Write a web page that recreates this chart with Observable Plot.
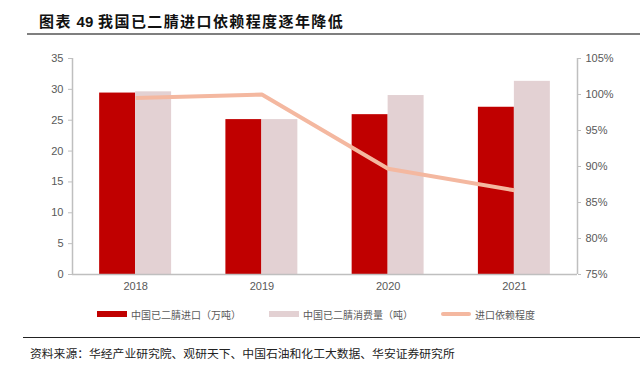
<!DOCTYPE html>
<html><head><meta charset="utf-8">
<script src="https://cdn.jsdelivr.net/npm/d3@7"></script>
<script src="https://cdn.jsdelivr.net/npm/@observablehq/plot@0.6"></script>
<style>
html,body{margin:0;padding:0;}
body{width:640px;height:376px;position:relative;background:#fff;overflow:hidden;font-family:"Liberation Sans",Arial,sans-serif;}
#title{position:absolute;left:39px;top:11px;font-family:"Noto Sans CJK SC";font-weight:bold;font-size:15px;line-height:20px;letter-spacing:1.4px;color:#111;white-space:nowrap;}
#title .num{font-family:"Liberation Sans",Arial,sans-serif;font-weight:bold;letter-spacing:0;}
#titleRule{position:absolute;left:27px;right:0;top:33px;height:2px;background:#7f7f7f;}
#chart{position:absolute;left:0;top:40px;}
.leg{position:absolute;top:306px;height:16px;display:flex;align-items:center;font-family:"Noto Sans CJK SC";font-size:10px;color:#595959;white-space:nowrap;}
.sw{display:inline-block;width:30px;margin-right:4px;}
#srcRule{position:absolute;left:23px;right:0;top:337px;height:1px;background:#222;}
#src{position:absolute;left:30px;top:344px;font-family:"Noto Sans CJK SC";font-size:11.8px;line-height:18px;color:#222;white-space:nowrap;}
</style>
</head>
<body>
<div id="title">图表 <span class="num">49</span> 我国已二腈进口依赖程度逐年降低</div>
<div id="titleRule"></div>
<div id="chart"></div>
<div id="legend"></div>
<div id="srcRule"></div>
<div id="src">资料来源：华经产业研究院、观研天下、中国石油和化工大数据、华安证券研究所</div>
<script>
const years = [2018, 2019, 2020, 2021];
const imports = [29.4, 25.1, 25.9, 27.1];       // 中国已二腈进口（万吨）
const consumption = [29.6, 25.1, 29.0, 31.3];   // 中国已二腈消费量（吨）
const dependence = [99.5, 100.0, 89.7, 86.7];   // 进口依赖程度 (%)
const leftTicks = [0, 5, 10, 15, 20, 25, 30, 35];
const rightTicks = [75, 80, 85, 90, 95, 100, 105];
const seriesNames = ["中国已二腈进口（万吨）", "中国已二腈消费量（吨）", "进口依赖程度"];
const colors = ["#c00000", "#e3d1d3", "#f4b8a0"];

const toLeft = p => (p - 75) * 35 / 30;
const fromLeft = v => v * 30 / 35 + 75;
const rows = years.map((y, i) => ({year: y, imp: imports[i], con: consumption[i], dep: dependence[i]}));
const half = 0.285;
const axisColor = "#bfbfbf";

const chart = Plot.plot({
  width: 640, height: 260,
  marginLeft: 72, marginRight: 63, marginTop: 18, marginBottom: 26,
  style: {fontFamily: "Liberation Sans, Arial, sans-serif", fontSize: "11px", color: "#595959", background: "transparent", overflow: "visible"},
  x: {domain: [2017.5, 2021.5]},
  y: {domain: [0, 35]},
  marks: [
    Plot.rectY(rows, {x1: d => d.year - half, x2: d => d.year, y1: 0, y2: "imp", fill: colors[0]}),
    Plot.rectY(rows, {x1: d => d.year, x2: d => d.year + half, y1: 0, y2: "con", fill: colors[1]}),
    Plot.line(rows, {x: "year", y: d => toLeft(d.dep), stroke: colors[2], strokeWidth: 4, strokeLinecap: "butt", strokeLinejoin: "miter"}),
    Plot.ruleX([2017.5, 2021.5], {stroke: axisColor, strokeWidth: 1.5}),
    Plot.ruleY([0], {stroke: axisColor, strokeWidth: 1.5}),
    Plot.axisY(leftTicks, {anchor: "left", tickSize: 4, tickPadding: 5, stroke: axisColor, label: null}),
    Plot.axisY(rightTicks.map(toLeft), {anchor: "right", tickSize: 3, tickPadding: 5, stroke: axisColor, label: null,
      tickFormat: v => Math.round(fromLeft(v)) + "%"}),
    Plot.axisX(years, {tickSize: 0, tickPadding: 8, label: null, tickFormat: d => String(d)})
  ]
});
document.getElementById("chart").appendChild(chart);

const legend = document.getElementById("legend");
const legLeft = [97, 269, 441];
seriesNames.forEach((name, i) => {
  const el = document.createElement("div");
  el.className = "leg";
  el.style.left = legLeft[i] + "px";
  const sw = document.createElement("span");
  sw.className = "sw";
  sw.style.height = i === 2 ? "4px" : "6px";
  sw.style.background = colors[i];
  if (i === 2) sw.style.borderRadius = "2px";
  el.appendChild(sw);
  el.appendChild(document.createTextNode(name));
  legend.appendChild(el);
});
</script>
</body></html>
